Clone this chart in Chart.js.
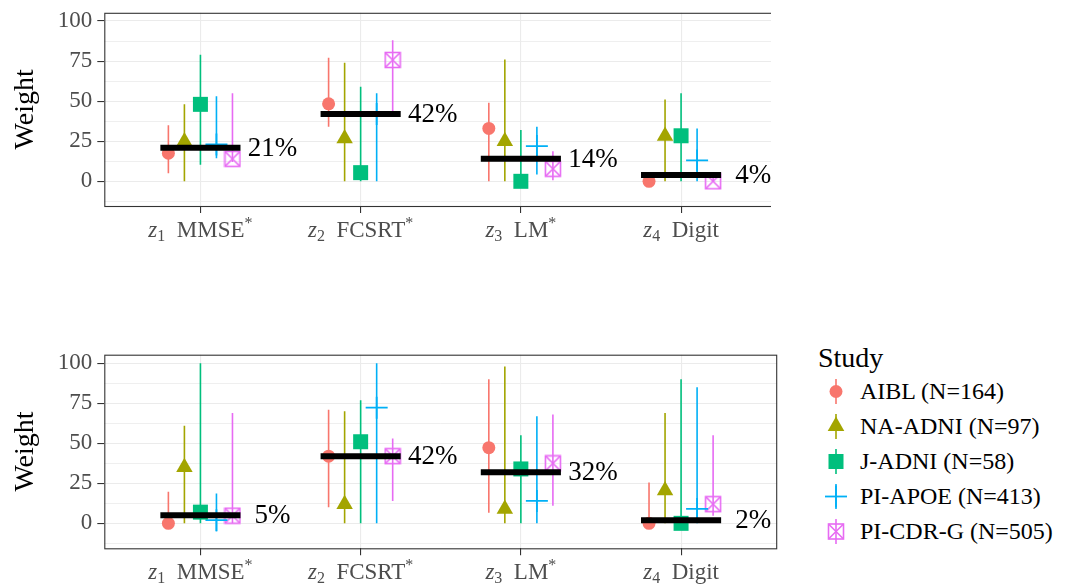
<!DOCTYPE html>
<html>
<head>
<meta charset="utf-8">
<script src="https://cdn.jsdelivr.net/npm/chart.js@4.4.1/dist/chart.umd.min.js"></script>
<style>
  html, body { margin: 0; padding: 0; background: #ffffff; }
  body { width: 1075px; height: 587px; position: relative; overflow: hidden; font-family: "Liberation Serif", serif; }
  #wrapTop { position: absolute; left: 0; top: 0; width: 771px; height: 260px; overflow: hidden; }
  #wrapBottom { position: absolute; left: 0; top: 330px; width: 790px; height: 257px; }
  canvas { display: block; }
  #legend { position: absolute; left: 818px; top: 338px; color: #000; }
  #legend .title { font-size: 28px; line-height: 40px; height: 40px; margin-bottom: -4px; }
  #legend .item { height: 35px; display: flex; align-items: center; font-size: 24px; }
  #legend svg { width: 36px; height: 35px; margin-left: 0px; margin-right: 6px; flex: none; }
</style>
</head>
<body>
<div id="wrapTop"><canvas id="cTop" width="790" height="260"></canvas></div>
<div id="wrapBottom"><canvas id="cBottom" width="790" height="257"></canvas></div>
<div id="legend"></div>
<script>
// ---------------- data ----------------
const categories = ['MMSE*', 'FCSRT*', 'LM*', 'Digit'];
const categoryIndex = ['1', '2', '3', '4'];
const studies = ['AIBL (N=164)', 'NA-ADNI (N=97)', 'J-ADNI (N=58)', 'PI-APOE (N=413)', 'PI-CDR-G (N=505)'];
const studyColors = ['#F8766D', '#A3A500', '#00BF7D', '#00B0F6', '#E76BF3'];
const yTickValues = [0, 25, 50, 75, 100];
const yMinorValues = [-12.5, 12.5, 37.5, 62.5, 87.5];

// top panel: rows = studies, columns = categories
const topEst = [
  [17.5, 48.3, 33, 0],
  [24.8, 26.7, 25, 28.3],
  [48, 5.4, 0, 28.4],
  [23, 42, 22, 13],
  [14, 75.7, 7.8, 0]
];
const topLow = [
  [5, 34, 0, 0],
  [0, 0, 0, 0],
  [10.3, 0, 0, 0],
  [14.4, 0, 4.3, 0],
  [12, 42, 0.6, 0]
];
const topHigh = [
  [35, 77, 49, 0],
  [48, 74, 76, 51],
  [79, 59, 32, 55],
  [53, 55, 34, 33],
  [55, 88, 18.7, 3]
];
const topMean = [21, 42, 14, 4];

// bottom panel
const botEst = [
  [0, 42, 47.3, 0],
  [35, 12, 9, 20.5],
  [7, 51, 34, 0],
  [2, 72.3, 14, 9],
  [4.8, 42, 37.5, 12]
];
const botLow = [
  [0, 10, 6.6, 0],
  [0, 0, 0, 0],
  [0, 0, 0, 0],
  [-5, 0, 0, 0],
  [0, 14, 11, 4.8]
];
const botHigh = [
  [19.8, 71, 90, 25.6],
  [61, 70, 98, 69],
  [100, 77, 55, 90],
  [18.7, 100, 67, 85],
  [69, 53, 68, 55]
];
const botMean = [5, 42, 32, 2];

// ---------------- styling ----------------
const dodge = [-0.2, -0.1, 0, 0.1, 0.2];
const FONT = '"Liberation Serif", "Times New Roman", serif';

function makeBoxCross(color) {
  const c = document.createElement('canvas');
  c.width = 18; c.height = 18;
  const g = c.getContext('2d');
  g.strokeStyle = color; g.lineWidth = 1.6;
  g.strokeRect(1.5, 1.5, 15, 15);
  g.beginPath();
  g.moveTo(1.5, 1.5); g.lineTo(16.5, 16.5);
  g.moveTo(16.5, 1.5); g.lineTo(1.5, 16.5);
  g.stroke();
  return c;
}
const boxCross = makeBoxCross(studyColors[4]);
const pointStyles = ['circle', 'triangle', 'rect', 'cross', boxCross];
const pointRadii = [6.5, 9.5, 10.6, 11, 9];

function buildDatasets(est, low, high, means) {
  const ds = [];
  // error bars
  studies.forEach((s, si) => {
    const data = [];
    categories.forEach((c, ci) => {
      const x = ci + 1 + dodge[si];
      data.push({x: x, y: low[si][ci]});
      data.push({x: x, y: high[si][ci]});
      data.push({x: x, y: null});
    });
    ds.push({
      label: s + ' range', data, showLine: true, spanGaps: false,
      borderColor: studyColors[si], borderWidth: 1.6, pointRadius: 0,
      borderCapStyle: 'butt', order: 3, clip: false
    });
  });
  // points
  studies.forEach((s, si) => {
    const data = categories.map((c, ci) => ({x: ci + 1 + dodge[si], y: est[si][ci]}));
    const isCross = si === 3;
    ds.push({
      label: s, data, showLine: false,
      pointStyle: pointStyles[si], pointRadius: pointRadii[si],
      backgroundColor: studyColors[si],
      borderColor: studyColors[si],
      pointBorderWidth: isCross ? 1.8 : 0,
      order: 2, clip: false
    });
  });
  // mean bars
  const meanData = [];
  means.forEach((m, ci) => {
    meanData.push({x: ci + 1 - 0.25, y: m});
    meanData.push({x: ci + 1 + 0.25, y: m});
    meanData.push({x: ci + 1, y: null});
  });
  ds.push({
    label: 'mean', data: meanData, showLine: true, spanGaps: false,
    borderColor: '#000000', borderWidth: 6, pointRadius: 0,
    borderCapStyle: 'butt', order: 1, clip: false
  });
  return ds;
}

function catLabelParts(ci) {
  const name = categories[ci];
  const star = name.endsWith('*');
  const parts = [
    {t: 'z', f: 'italic 23px ' + FONT, dy: 0},
    {t: categoryIndex[ci], f: '16px ' + FONT, dy: 4},
    {t: '\u2002' + (star ? name.slice(0, -1) : name), f: '23px ' + FONT, dy: 0}
  ];
  if (star) parts.push({t: '*', f: '16px ' + FONT, dy: -9});
  return parts;
}

const panelPlugin = {
  id: 'panelDeco',
  afterDraw(chart, args, opts) {
    const ctx = chart.ctx;
    const a = chart.chartArea;
    const xs = chart.scales.x, ys = chart.scales.y;
    ctx.save();
    // panel border
    ctx.strokeStyle = '#333333';
    ctx.lineWidth = 1.1;
    ctx.strokeRect(a.left + 0.5, a.top + 0.5, a.right - a.left - 1, a.bottom - a.top);
    // x category labels
    ctx.fillStyle = '#4d4d4d';
    ctx.textBaseline = 'alphabetic';
    categories.forEach((c, ci) => {
      const parts = catLabelParts(ci);
      let total = 0;
      parts.forEach(p => { ctx.font = p.f; p.w = ctx.measureText(p.t).width; total += p.w; });
      let x = xs.getPixelForValue(ci + 1) - total / 2;
      const base = a.bottom + 31;
      parts.forEach(p => {
        ctx.font = p.f; ctx.textAlign = 'left';
        ctx.fillText(p.t, x, base + p.dy);
        x += p.w;
      });
    });
    // percentage labels
    ctx.fillStyle = '#000000';
    ctx.font = '27px ' + FONT;
    ctx.textAlign = 'center';
    ctx.textBaseline = 'middle';
    opts.means.forEach((m, ci) => {
      ctx.fillText(m + '%', xs.getPixelForValue(ci + 1 + 0.45), ys.getPixelForValue(m) + 1);
    });
    // y title
    ctx.translate(26, (a.top + a.bottom) / 2);
    ctx.rotate(-Math.PI / 2);
    ctx.font = '28px ' + FONT;
    ctx.textAlign = 'center';
    ctx.textBaseline = 'middle';
    ctx.fillText('Weight', 0, 0);
    ctx.restore();
  }
};

function makeChart(id, est, low, high, means, padTop, xHeight, yMin, yMax) {
  return new Chart(document.getElementById(id), {
    type: 'scatter',
    data: {datasets: buildDatasets(est, low, high, means)},
    options: {
      responsive: false, animation: false, devicePixelRatio: 1,
      layout: {padding: {top: padTop, left: 0, right: 0, bottom: 0}},
      plugins: {legend: {display: false}, tooltip: {enabled: false}, panelDeco: {means}},
      scales: {
        x: {
          type: 'linear', min: 0.4, max: 4.6,
          afterBuildTicks: s => { s.ticks = categoryIndex.map((c, i) => ({value: i + 1})); },
          afterFit: s => { s.height = xHeight; s.paddingLeft = 0; s.paddingRight = 0; },
          ticks: {display: false, autoSkip: false},
          border: {display: false},
          grid: {color: '#ebebeb', lineWidth: 1.1, tickLength: 7, tickColor: '#333333', tickWidth: 1.1, drawTicks: true}
        },
        y: {
          type: 'linear', min: yMin, max: yMax,
          afterBuildTicks: s => {
            s.ticks = yMinorValues.concat(yTickValues).sort((p, q) => p - q).map(v => ({value: v}));
          },
          afterFit: s => { s.width = 104.3; s.paddingTop = 0; s.paddingBottom = 0; },
          border: {display: false},
          ticks: {
            color: '#4d4d4d', padding: 5, autoSkip: false,
            font: {family: FONT, size: 23},
            callback: v => (yTickValues.includes(v) ? String(v) : '')
          },
          grid: {
            color: '#ebebeb',
            lineWidth: c => (c.tick && yTickValues.includes(c.tick.value) ? 1.1 : 0.8),
            tickLength: 7, tickWidth: 1.1,
            tickColor: c => (c.tick && yTickValues.includes(c.tick.value) ? '#333333' : 'rgba(0,0,0,0)')
          }
        }
      }
    },
    plugins: [panelPlugin]
  });
}

makeChart('cTop', topEst, topLow, topHigh, topMean, 10.7, 54, -15.4, 105.1);
makeChart('cBottom', botEst, botLow, botHigh, botMean, 24.7, 38.7, -15.6, 105.4);

// ---------------- legend ----------------
function legendSymbol(si) {
  const col = studyColors[si];
  const line = `<line x1="18" y1="5" x2="18" y2="30" stroke="${col}" stroke-width="1.6"/>`;
  let shape = '';
  if (si === 0) shape = `<circle cx="18" cy="17.5" r="6.5" fill="${col}"/>`;
  if (si === 1) shape = `<polygon points="18,7.5 26.3,21.9 9.7,21.9" fill="${col}"/>`;
  if (si === 2) shape = `<rect x="10.5" y="10" width="15" height="15" fill="${col}"/>`;
  if (si === 3) shape = `<line x1="7" y1="17.5" x2="29" y2="17.5" stroke="${col}" stroke-width="1.8"/><line x1="18" y1="6.5" x2="18" y2="28.5" stroke="${col}" stroke-width="1.8"/>`;
  if (si === 4) shape = `<rect x="10.5" y="10" width="15" height="15" fill="none" stroke="${col}" stroke-width="1.6"/><line x1="10.5" y1="10" x2="25.5" y2="25" stroke="${col}" stroke-width="1.6"/><line x1="25.5" y1="10" x2="10.5" y2="25" stroke="${col}" stroke-width="1.6"/>`;
  return `<svg viewBox="0 0 36 35">${line}${shape}</svg>`;
}
const leg = document.getElementById('legend');
let html = '<div class="title">Study</div>';
studies.forEach((s, si) => {
  html += `<div class="item">${legendSymbol(si)}<span>${s}</span></div>`;
});
leg.innerHTML = html;
</script>
</body>
</html>
